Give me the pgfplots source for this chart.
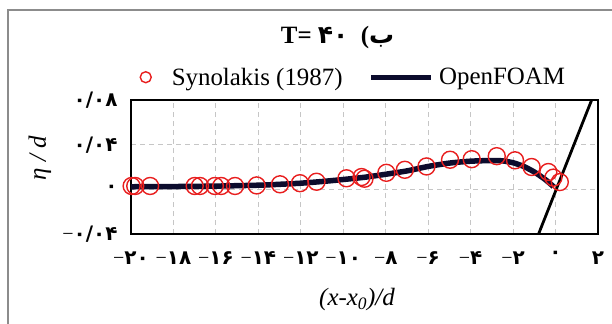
\documentclass[border=0pt]{standalone}
\usepackage{pgfplots}
\pgfplotsset{compat=1.18}
\usepackage{fontspec}
\setmainfont{Liberation Serif}
\newfontfamily\fa[Script=Arabic]{DejaVu Sans}
\TeXXeTstate=1
\definecolor{myred}{RGB}{232,30,30}
\definecolor{navy}{RGB}{12,12,45}
\definecolor{framegray}{RGB}{140,140,140}
\newcommand{\mn}{{\rmfamily\mdseries −}}
\begin{document}
\begin{tikzpicture}[x=1bp,y=1bp]
\useasboundingbox (0,0) rectangle (612,323);
\draw[framegray, line width=1.5bp] (8,-2) -- (8,313) -- (614,313);
\node[font=\bfseries\fontsize{25}{25}\selectfont] at (337.5,285) {T= {\fa ۴۰}\ \ ({\fa\beginR ب\endR}};
\begin{axis}[
 at={(131bp,89bp)}, anchor=south west,
 width=467bp, height=134bp, scale only axis,
 xmin=-20, xmax=2, ymin=-0.04, ymax=0.08,
 scaled y ticks=false, scaled x ticks=false,
 xtick={-20,-18,-16,-14,-12,-10,-8,-6,-4,-2,0,2},
 xticklabels={\mn{}۲۰, \mn{}۱۸, \mn{}۱۶, \mn{}۱۴, \mn{}۱۲, \mn{}۱۰, \mn{}۸, \mn{}۶, \mn{}۴, \mn{}۲, ۰, ۲},
 ytick={-0.04,0,0.04,0.08},
 yticklabels={\mn{}۰/۰۴, ۰, ۰/۰۴, ۰/۰۸},
 ticklabel style={font=\fa\bfseries\fontsize{20}{20}\selectfont},
 xticklabel style={yshift=-14bp},
 yticklabel style={xshift=-10bp},
 major tick length=0pt,
 grid=major,
 major grid style={gray!45, line width=0.9bp, dash pattern=on 5bp off 4bp},
 axis line style={line width=1.4bp, black},
 xlabel={\itshape (x-x\textsubscript{0})/d},
 xlabel style={at={(axis description cs:0.484,-0.49)}, anchor=center, font=\fontsize{25}{25}\selectfont},
 ylabel={\itshape η / d},
 ylabel style={at={(axis description cs:-0.195,0.567)}, anchor=center, font=\fontsize{25}{25}\selectfont},
 legend style={at={(axis description cs:0.476,1.17)}, anchor=center, draw=none, fill=none,
   legend columns=2, font=\fontsize{25}{25}\selectfont,
   /tikz/every even column/.append style={column sep=24bp}},
 legend cell align=left,
]
\addplot[only marks, mark=o, mark size=8.5bp, myred, mark options={line width=1.4bp},
 legend image code/.code={\path[draw=none,fill=none] (0bp,0bp) rectangle (30bp,0.1bp); \draw[myred, line width=1.4bp] (6bp,0bp) circle (5.5bp);}]
 coordinates {
 (-19.97,0.003) (-19.8,0.003) (-19.1,0.003) (-17.0,0.003) (-16.75,0.003)
 (-16.05,0.003) (-15.75,0.003) (-15.1,0.003) (-14.08,0.0035) (-12.98,0.0045)
 (-12.04,0.0055) (-11.26,0.0068) (-9.85,0.0099) (-9.14,0.011) (-9.0,0.0095)
 (-7.97,0.0148) (-7.1,0.0175) (-6.08,0.0205) (-4.97,0.0265) (-3.95,0.027)
 (-2.77,0.0297) (-1.91,0.026) (-1.13,0.020) (-0.34,0.0155) (-0.1,0.0105) (0.2,0.0065)
 };
\addlegendentry{Synolakis (1987)}
\addplot[navy, line width=5.5bp, smooth, tension=0.4,
 legend image code/.code={\path[draw=none,fill=none] (0bp,0bp) rectangle (66bp,0.1bp); \draw[navy, line width=5bp] (0bp,0bp) -- (60bp,0bp);}]
 coordinates {
 (-20,0.0023) (-18,0.0025) (-16,0.0029) (-14,0.0037) (-13,0.0045) (-12,0.0055)
 (-11,0.007) (-10,0.0088) (-9,0.0108) (-8,0.0135) (-7,0.0165) (-6,0.0205)
 (-5,0.0235) (-4,0.0252) (-3,0.0258) (-2.5,0.0255) (-2,0.0238) (-1.5,0.0205)
 (-1,0.0155) (-0.5,0.009) (-0.1,0.0025)
 };
\addlegendentry{OpenFOAM}
\addplot[black, line width=2.8bp, forget plot] coordinates {(-0.8,-0.04) (1.7,0.08)};
\end{axis}
\end{tikzpicture}
\end{document}
